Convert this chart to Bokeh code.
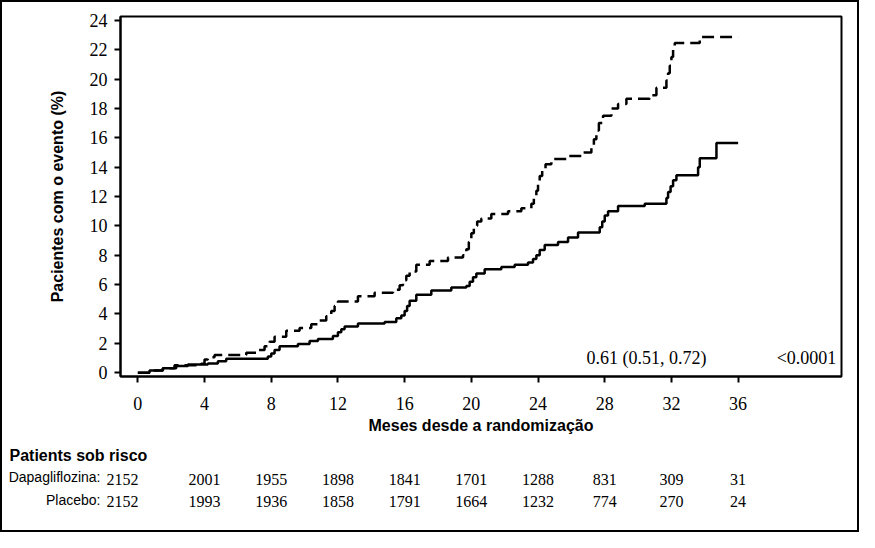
from bokeh.plotting import figure
from bokeh.models import Range1d, FixedTicker, Label, ColumnDataSource
from bokeh.layouts import column
from bokeh.core.properties import value
from bokeh.embed import file_html
from bokeh.resources import INLINE

# Kaplan-Meier style cumulative curves (months, % with event)
dapa_t = [0, 0.7, 1.5, 2.3, 3.0, 4.2, 4.8, 5.3, 7.8, 8.0, 8.2, 8.5, 9.6, 10.3, 10.8, 11.7, 12.0, 12.2,
          12.4, 13.2, 14.8, 15.5, 15.8, 16.0, 16.15, 16.3, 16.7, 17.6, 18.8, 19.7, 19.9, 20.1, 20.3,
          20.8, 21.8, 22.6, 23.4, 23.7, 23.9, 24.1, 24.4, 25.2, 25.8, 26.4, 27.7, 27.85, 28.0, 28.2,
          28.8, 30.4, 31.7, 31.8, 31.95, 32.1, 32.3, 33.6, 33.7, 34.7, 36.0]
dapa_v = [0, 0.15, 0.3, 0.45, 0.55, 0.62, 0.78, 0.95, 1.1, 1.3, 1.55, 1.8, 1.95, 2.15, 2.3, 2.5, 2.75, 2.95,
          3.15, 3.35, 3.45, 3.7, 3.9, 4.2, 4.55, 4.9, 5.3, 5.6, 5.8, 5.9, 6.2, 6.5, 6.75,
          7.05, 7.2, 7.35, 7.5, 7.75, 8.0, 8.35, 8.7, 8.9, 9.2, 9.55, 9.9, 10.3, 10.7, 11.0,
          11.35, 11.5, 11.9, 12.3, 12.7, 13.1, 13.45, 14.0, 14.6, 15.65, 15.65]

plac_t = [0, 0.8, 1.5, 2.2, 3.8, 4.0, 4.2, 4.6, 6.5, 7.2, 7.6, 7.9, 8.2, 8.9, 9.7, 10.4, 10.9, 11.3,
          11.6, 11.8, 12.0, 13.2, 14.2, 15.3, 15.7, 15.9, 16.1, 16.3, 16.7, 17.5, 18.6, 19.5, 19.7,
          19.85, 20.0, 20.15, 20.35, 20.6, 21.2, 22.2, 23.0, 23.6, 23.75, 23.9, 24.0, 24.1, 24.25,
          24.45, 24.8, 25.8, 26.6, 27.2, 27.35, 27.5, 27.65, 27.9, 28.4, 28.8, 29.3, 30.7, 31.1,
          31.7, 31.8, 31.9, 32.0, 32.1, 32.2, 33.7, 36.0]
plac_v = [0, 0.15, 0.3, 0.5, 0.6, 0.9, 1.05, 1.2, 1.35, 1.55, 1.8, 2.1, 2.45, 2.85, 3.05, 3.3, 3.55, 3.85,
          4.2, 4.55, 4.85, 5.2, 5.45, 5.65, 5.95, 6.3, 6.6, 6.9, 7.35, 7.6, 7.85, 8.0, 8.4,
          8.9, 9.5, 10.0, 10.3, 10.5, 10.8, 11.0, 11.2, 11.5, 11.9, 12.4, 12.9, 13.4, 13.9,
          14.2, 14.55, 14.75, 15.0, 15.4, 15.9, 16.5, 17.0, 17.5, 18.0, 18.3, 18.65, 18.9, 19.4,
          19.9, 20.4, 20.9, 21.5, 22.0, 22.45, 22.87, 22.87]

x_ticks = [0, 4, 8, 12, 16, 20, 24, 28, 32, 36]
y_ticks = [0, 2, 4, 6, 8, 10, 12, 14, 16, 18, 20, 22, 24]

risk_months = [0, 4, 8, 12, 16, 20, 24, 28, 32, 36]
risk_dapa = ["2152", "2001", "1955", "1898", "1841", "1701", "1288", "831", "309", "31"]
risk_plac = ["2152", "1993", "1936", "1858", "1791", "1664", "1232", "774", "270", "24"]

hr_text = "0.61 (0.51, 0.72)"
p_text = "<0.0001"

SERIF = "Liberation Serif"
SANS = "Liberation Sans"

# layout (inner pixels, inside a 2px page border)
W = 855
LEFT, RIGHT, TOP = 118, 16, 14
FRAME_H = 360
MAIN_H = 436
TABLE_H = 528 - MAIN_H
X0, X1 = -1.04, 42.2
Y0, Y1 = -0.26, 24.26

p = figure(width=W, height=MAIN_H, output_backend="svg", toolbar_location=None,
           x_range=Range1d(X0, X1), y_range=Range1d(Y0, Y1),
           min_border_left=LEFT, min_border_top=TOP, min_border_right=RIGHT,
           min_border_bottom=MAIN_H - TOP - FRAME_H)
p.grid.visible = False
p.outline_line_color = "black"
p.outline_line_width = 2

for ax in (p.xaxis[0], p.yaxis[0]):
    ax.axis_line_width = 2
    ax.major_tick_line_width = 2
    ax.major_tick_out = 6
    ax.major_tick_in = 0
    ax.minor_tick_line_color = None
    ax.major_label_text_font = SERIF
    ax.major_label_text_font_size = "18px"
    ax.major_label_text_color = "black"
    ax.axis_label_text_font = SANS
    ax.axis_label_text_font_style = "bold"
    ax.axis_label_text_color = "black"
    ax.axis_label_text_font_size = "16px"

p.xaxis[0].ticker = FixedTicker(ticks=x_ticks)
p.yaxis[0].ticker = FixedTicker(ticks=y_ticks)
p.xaxis[0].axis_label = "Meses desde a randomização"
p.yaxis[0].axis_label = "Pacientes com o evento (%)"
p.xaxis[0].major_label_standoff = 14
p.xaxis[0].axis_label_standoff = 4
p.yaxis[0].major_label_standoff = 7
p.yaxis[0].axis_label_standoff = 21

p.step(plac_t, plac_v, mode="after", line_color="black", line_width=2.5, line_dash="12 6")
p.step(dapa_t, dapa_v, mode="after", line_color="black", line_width=2.5)

p.add_layout(Label(x=30.5, y=0.98, text=hr_text, text_font=SERIF, text_font_size="18px",
                   text_align="center", text_baseline="middle", text_color="black"))
p.add_layout(Label(x=40.1, y=0.98, text=p_text, text_font=SERIF, text_font_size="18px",
                   text_align="center", text_baseline="middle", text_color="black"))

# risk table: second figure, same month scale, frame spanning the full width
k = (X1 - X0) / (W - LEFT - RIGHT)      # months per pixel
tx0 = X0 - LEFT * k
tx1 = X0 + (W - LEFT) * k

def mx(px):
    return X0 + (px - LEFT) * k

t = figure(width=W, height=TABLE_H, output_backend="svg", toolbar_location=None,
           x_range=Range1d(tx0, tx1), y_range=Range1d(TABLE_H, 0),
           x_axis_location=None, y_axis_location=None,
           min_border_left=0, min_border_right=0, min_border_top=0, min_border_bottom=0)
t.grid.visible = False
t.outline_line_color = None

t.text(x=[mx(7)], y=[17], text=["Patients sob risco"], text_font=value(SANS),
       text_font_style="bold", text_font_size="16px", text_align="left",
       text_baseline="alphabetic", text_color="black")
t.text(x=[mx(98), mx(98)], y=[38, 61], text=["Dapagliflozina:", "Placebo:"],
       text_font=value(SANS), text_font_size="14px", text_align="right",
       text_baseline="alphabetic", text_color="black")

num_x = [mx(104) if i == 0 else m for i, m in enumerate(risk_months)]
num_align = ["left" if i == 0 else "center" for i in range(len(risk_months))]
src_d = ColumnDataSource(dict(x=num_x, y=[41] * len(num_x), text=risk_dapa, align=num_align))
src_p = ColumnDataSource(dict(x=num_x, y=[63] * len(num_x), text=risk_plac, align=num_align))
for src in (src_d, src_p):
    t.text(x="x", y="y", text="text", source=src, text_font=value(SERIF), text_font_size="16px",
           text_align="align", text_baseline="alphabetic", text_color="black")

layout = column(column(p), column(t), spacing=0, styles={"border": "2px solid black"})
open("out.html", "w").write(file_html(layout, INLINE))
